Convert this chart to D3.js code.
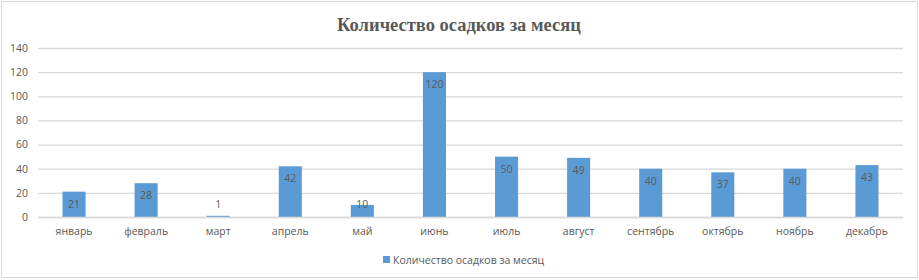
<!DOCTYPE html>
<html>
<head>
<meta charset="utf-8">
<script src="https://cdn.jsdelivr.net/npm/d3@7"></script>
<style>
  body { margin: 0; background: #fff; }
  svg text { fill: #595959; }
</style>
</head>
<body>
<div id="chart"></div>
<script>
var months = ["январь", "февраль", "март", "апрель", "май", "июнь",
              "июль", "август", "сентябрь", "октябрь", "ноябрь", "декабрь"];
var rainfall = [21, 28, 1, 42, 10, 120, 50, 49, 40, 37, 40, 43];
var yTicks = [0, 20, 40, 60, 80, 100, 120, 140];
var seriesName = "Количество осадков за месяц";
var chartTitle = "Количество осадков за месяц";

var width = 919,
    height = 280,
    margin = {top: 48, right: 16, bottom: 63, left: 38};

var svg = d3.select("#chart").append("svg")
    .attr("width", width)
    .attr("height", height);

// outer frame
svg.append("rect")
    .attr("x", 1.5).attr("y", 1.5)
    .attr("width", 916).attr("height", 276)
    .attr("fill", "#fff")
    .attr("stroke", "#d9d9d9");

svg.append("text")
    .attr("x", 459)
    .attr("y", 31)
    .attr("text-anchor", "middle")
    .style("font-family", "'Liberation Serif', 'Times New Roman', serif")
    .style("font-weight", "bold")
    .style("font-size", "18.5px")
    .text(chartTitle);

var x = d3.scaleBand()
    .domain(months)
    .range([margin.left, width - margin.right])
    .paddingInner(0.68)
    .paddingOuter(0.34);

var y = d3.scaleLinear()
    .domain([0, 140])
    .range([height - margin.bottom, margin.top]);

var font = "'Open Sans', 'Liberation Sans', sans-serif";
var fs = "10.5px";

// gridlines + y labels
var yAxis = svg.append("g")
    .attr("transform", "translate(" + margin.left + ",0)")
    .call(d3.axisLeft(y).tickValues(yTicks).tickSize(-(width - margin.right - margin.left)).tickPadding(10));
yAxis.select(".domain").remove();
yAxis.selectAll(".tick line").attr("stroke", "#d9d9d9").attr("stroke-width", 1.3);
yAxis.selectAll(".tick text")
    .style("font-family", font)
    .style("font-size", fs)
    .attr("fill", "#595959");

// bars
svg.append("g").selectAll("rect")
    .data(rainfall)
    .enter().append("rect")
    .attr("x", function (d, i) { return x(months[i]); })
    .attr("y", function (d) { return y(d); })
    .attr("width", x.bandwidth())
    .attr("height", function (d) { return y(0) - y(d); })
    .attr("fill", "#5b9bd5");

// value labels
svg.append("g").selectAll("text")
    .data(rainfall)
    .enter().append("text")
    .attr("x", function (d, i) { return x(months[i]) + x.bandwidth() / 2; })
    .attr("y", function (d) { return Math.min(y(d) + 12, y(0) - 13) + 4; })
    .attr("text-anchor", "middle")
    .style("font-family", font)
    .style("font-size", fs)
    .attr("fill", "#404040")
    .text(function (d) { return d; });

// x labels
var xAxis = svg.append("g")
    .attr("transform", "translate(0," + y(0) + ")")
    .call(d3.axisBottom(x).tickSize(0).tickPadding(11));
xAxis.select(".domain").attr("stroke", "#d9d9d9").attr("stroke-width", 1.3);
xAxis.selectAll(".tick text")
    .style("font-family", font)
    .style("font-size", fs)
    .attr("fill", "#595959");

// legend
var legend = svg.append("g").attr("transform", "translate(383,260)");
legend.append("rect")
    .attr("x", 0).attr("y", -4)
    .attr("width", 7).attr("height", 7)
    .attr("fill", "#5b9bd5");
legend.append("text")
    .attr("x", 10).attr("y", 4)
    .style("font-family", font)
    .style("font-size", fs)
    .text(seriesName);
</script>
</body>
</html>
